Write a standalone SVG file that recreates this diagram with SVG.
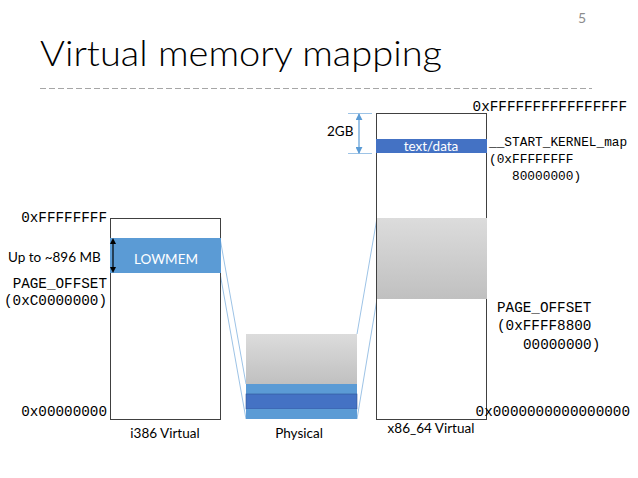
<svg xmlns="http://www.w3.org/2000/svg" width="638" height="478" viewBox="0 0 638 478">
<defs>
<linearGradient id="gray" x1="0" y1="0" x2="0" y2="1">
<stop offset="0" stop-color="#dcdcdc"/>
<stop offset="1" stop-color="#c0c0c0"/>
</linearGradient>
<marker id="ab" viewBox="0 0 8 8" refX="4" refY="4" markerWidth="6" markerHeight="6" orient="auto-start-reverse" markerUnits="userSpaceOnUse">
<path d="M0,0 L8,4 L0,8 z" fill="#000"/>
</marker>
<marker id="ablue" viewBox="0 0 8 8" refX="7" refY="4" markerWidth="7" markerHeight="7" orient="auto-start-reverse" markerUnits="userSpaceOnUse">
<path d="M0,0 L8,4 L0,8 z" fill="#5b9bd5"/>
</marker>
</defs>
<style>
.mono{font-family:"Liberation Mono","DejaVu Sans Mono",monospace;font-size:14.3px;fill:#000}
.monos{font-family:"Liberation Mono","DejaVu Sans Mono",monospace;font-size:12.8px;fill:#000}
.sans{font-family:"Lato","Open Sans",sans-serif;font-size:13.5px;fill:#000}
.wt{font-family:"Lato","Open Sans",sans-serif;font-size:13.5px;fill:#fff}
.box{fill:#fff;stroke:#404040;stroke-width:1}
.conn{stroke:#9dc3e6;stroke-width:1;fill:none}
.lb{fill:#5b9bd5}
.db{fill:#4472c4}
</style>
<rect width="638" height="478" fill="#fff"/>
<text x="578" y="23" font-family="Lato,'Open Sans',sans-serif" font-size="14" fill="#8c8c8c">5</text>
<text x="40" y="66" font-family="Lato,'Open Sans',sans-serif" font-weight="300" font-size="36" fill="#000" textLength="402" lengthAdjust="spacingAndGlyphs">Virtual memory mapping</text>
<line x1="40" y1="88.5" x2="592" y2="88.5" stroke="#a6a6a6" stroke-width="1.2" stroke-dasharray="6 3"/>

<g id="connectors">
<line class="conn" x1="220" y1="238" x2="246" y2="384"/>
<line class="conn" x1="220" y1="273" x2="246" y2="419"/>
<line class="conn" x1="377" y1="218" x2="357" y2="334"/>
<line class="conn" x1="377" y1="299" x2="357" y2="419"/>
</g>

<g id="i386">
<rect class="box" x="110.5" y="218.5" width="110" height="201"/>
<rect class="lb" x="110" y="238" width="111" height="35"/>
<text class="wt" x="166" y="264" text-anchor="middle">LOWMEM</text>
<line x1="113" y1="241" x2="113" y2="270" stroke="#000" stroke-width="1.2" marker-start="url(#ab)" marker-end="url(#ab)"/>
<text class="mono" x="107" y="222" text-anchor="end">0xFFFFFFFF</text>
<text class="sans" x="8" y="262">Up to ~896 MB</text>
<text class="mono" x="107" y="288" text-anchor="end">PAGE_OFFSET</text>
<text class="mono" x="107" y="305" text-anchor="end">(0xC0000000)</text>
<text class="mono" x="107" y="416" text-anchor="end">0x00000000</text>
<text class="sans" x="165" y="438" text-anchor="middle">i386 Virtual</text>
</g>

<g id="physical">
<rect x="246" y="334" width="111" height="50" fill="url(#gray)"/>
<rect class="lb" x="246" y="384" width="111" height="10"/>
<rect class="db" x="246" y="394" width="111" height="15" stroke="#2f5597" stroke-width="0.6"/>
<rect class="lb" x="246" y="409" width="111" height="10"/>
<text class="sans" x="299" y="438" text-anchor="middle">Physical</text>
</g>

<g id="x86_64">
<rect class="box" x="376.5" y="113.5" width="110" height="306"/>
<rect class="db" x="376" y="139" width="111" height="14"/>
<text class="wt" x="431" y="151" text-anchor="middle">text/data</text>
<rect x="377" y="218" width="110" height="81" fill="url(#gray)"/>
<text class="mono" x="627" y="111" text-anchor="end">0xFFFFFFFFFFFFFFFF</text>
<text class="monos" x="489" y="146">__START_KERNEL_map</text>
<text class="monos" x="489" y="163">(0xFFFFFFFF</text>
<text class="monos" x="512" y="180">80000000)</text>
<text class="mono" x="497" y="312">PAGE_OFFSET</text>
<text class="mono" x="497" y="330">(0xFFFF8800</text>
<text class="mono" x="523" y="349">00000000)</text>
<text class="mono" x="630" y="416" text-anchor="end">0x0000000000000000</text>
<text class="sans" x="431" y="433" text-anchor="middle">x86_64 Virtual</text>
</g>

<g id="dim2gb">
<line x1="348" y1="113.5" x2="372" y2="113.5" stroke="#9dc3e6" stroke-width="1"/>
<line x1="348" y1="153.5" x2="372" y2="153.5" stroke="#9dc3e6" stroke-width="1"/>
<line x1="359" y1="114" x2="359" y2="153" stroke="#5b9bd5" stroke-width="1.2" marker-start="url(#ablue)" marker-end="url(#ablue)"/>
<text class="sans" x="327" y="136">2GB</text>
</g>
</svg>
